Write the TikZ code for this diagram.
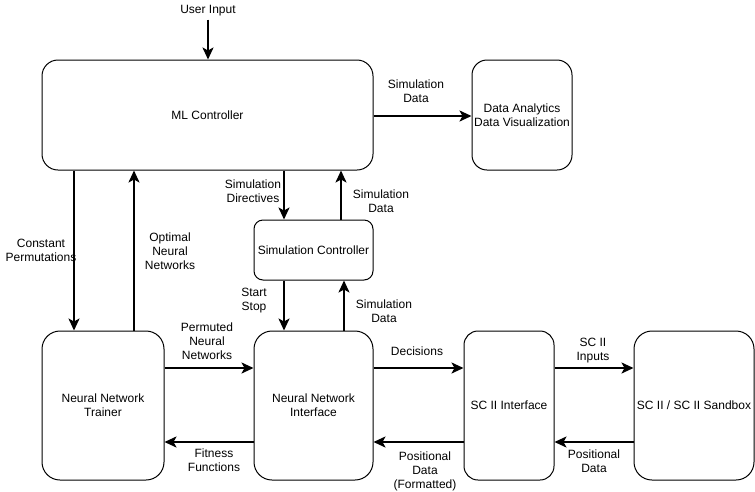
\documentclass[tikz,border=0pt]{standalone}
\usepackage{fontspec}
\setmainfont{Liberation Sans}
\usetikzlibrary{arrows.meta}
\begin{document}
\begin{tikzpicture}[x=1pt,y=-1pt,
  box/.style={draw=black,line width=1pt,rounded corners=#1,inner sep=0pt,align=center},
  box/.default=15pt,
  arr/.style={line width=2pt,-{Stealth[length=12pt,width=11pt,inset=3pt]}},
  lbl/.style={align=center,inner sep=0pt},
  every node/.style={font=\fontsize{12}{14}\selectfont}]
\useasboundingbox (0,0) rectangle (755,491);
\node[box=16pt,minimum width=331pt,minimum height=110pt] (ml) at (207.5,115) {ML Controller};
\node[box=15pt,minimum width=100pt,minimum height=110pt] (da) at (522,115) {Data Analytics\\Data Visualization};
\node[box=9pt,minimum width=119pt,minimum height=60pt] (sc) at (313.5,250) {Simulation Controller};
\node[box=18pt,minimum width=122pt,minimum height=149pt] (nnt) at (103,405.5) {Neural Network\\Trainer};
\node[box=18pt,minimum width=119pt,minimum height=149pt] (nni) at (313.5,405.5) {Neural Network\\Interface};
\node[box=14pt,minimum width=90pt,minimum height=149pt] (sci) at (509,405.5) {SC II Interface};
\node[box=18pt,minimum width=120pt,minimum height=149pt] (scs) at (694,405.5) {SC II / SC II Sandbox};

\coordinate (x74) at (74,0);
\coordinate (x134) at (134,0);
\coordinate (x284) at (284,0);
\coordinate (x341) at (341,0);
\coordinate (x344) at (344,0);
\coordinate (y116) at (0,116);
\coordinate (y368) at (0,368);
\coordinate (y442) at (0,442);

\node[lbl] (ui) at (208,11) {User Input};
\draw[arr] ([yshift=-3pt]ui.south) -- (ui.south |- ml.north);

\draw[arr] (ml.east |- y116) -- (da.west |- y116);
\node[lbl] at (416,91) {Simulation\\Data};

\draw[arr] (x74 |- ml.south) -- (x74 |- nnt.north);
\node[lbl] at (41,250.5) {Constant\\Permutations};
\draw[arr] (x134 |- nnt.north) -- (x134 |- ml.south);
\node[lbl] at (170,251) {Optimal\\Neural\\Networks};

\draw[arr] (x284 |- ml.south) -- (x284 |- sc.north);
\node[lbl] at (253,191) {Simulation\\Directives};
\draw[arr] (x341 |- sc.north) -- (x341 |- ml.south);
\node[lbl] at (381,201) {Simulation\\Data};

\draw[arr] (x284 |- sc.south) -- (x284 |- nni.north);
\node[lbl] at (254,301) {Start\\Stop};
\draw[arr] (x344 |- nni.north) -- (x344 |- sc.south);
\node[lbl] at (384,311) {Simulation\\Data};

\draw[arr] (nnt.east |- y368) -- (nni.west |- y368);
\node[lbl] at (207,341) {Permuted\\Neural\\Networks};
\draw[arr] (nni.west |- y442) -- (nnt.east |- y442);
\node[lbl] at (214,460) {Fitness\\Functions};

\draw[arr] (nni.east |- y368) -- (sci.west |- y368);
\node[lbl] at (417,351) {Decisions};
\draw[arr] (sci.west |- y442) -- (nni.east |- y442);
\node[lbl] at (425,471) {Positional\\Data\\(Formatted)};

\draw[arr] (sci.east |- y368) -- (scs.west |- y368);
\node[lbl] at (593,350.5) {SC II\\Inputs};
\draw[arr] (scs.west |- y442) -- (sci.east |- y442);
\node[lbl] at (594,461) {Positional\\Data};
\end{tikzpicture}
\end{document}
